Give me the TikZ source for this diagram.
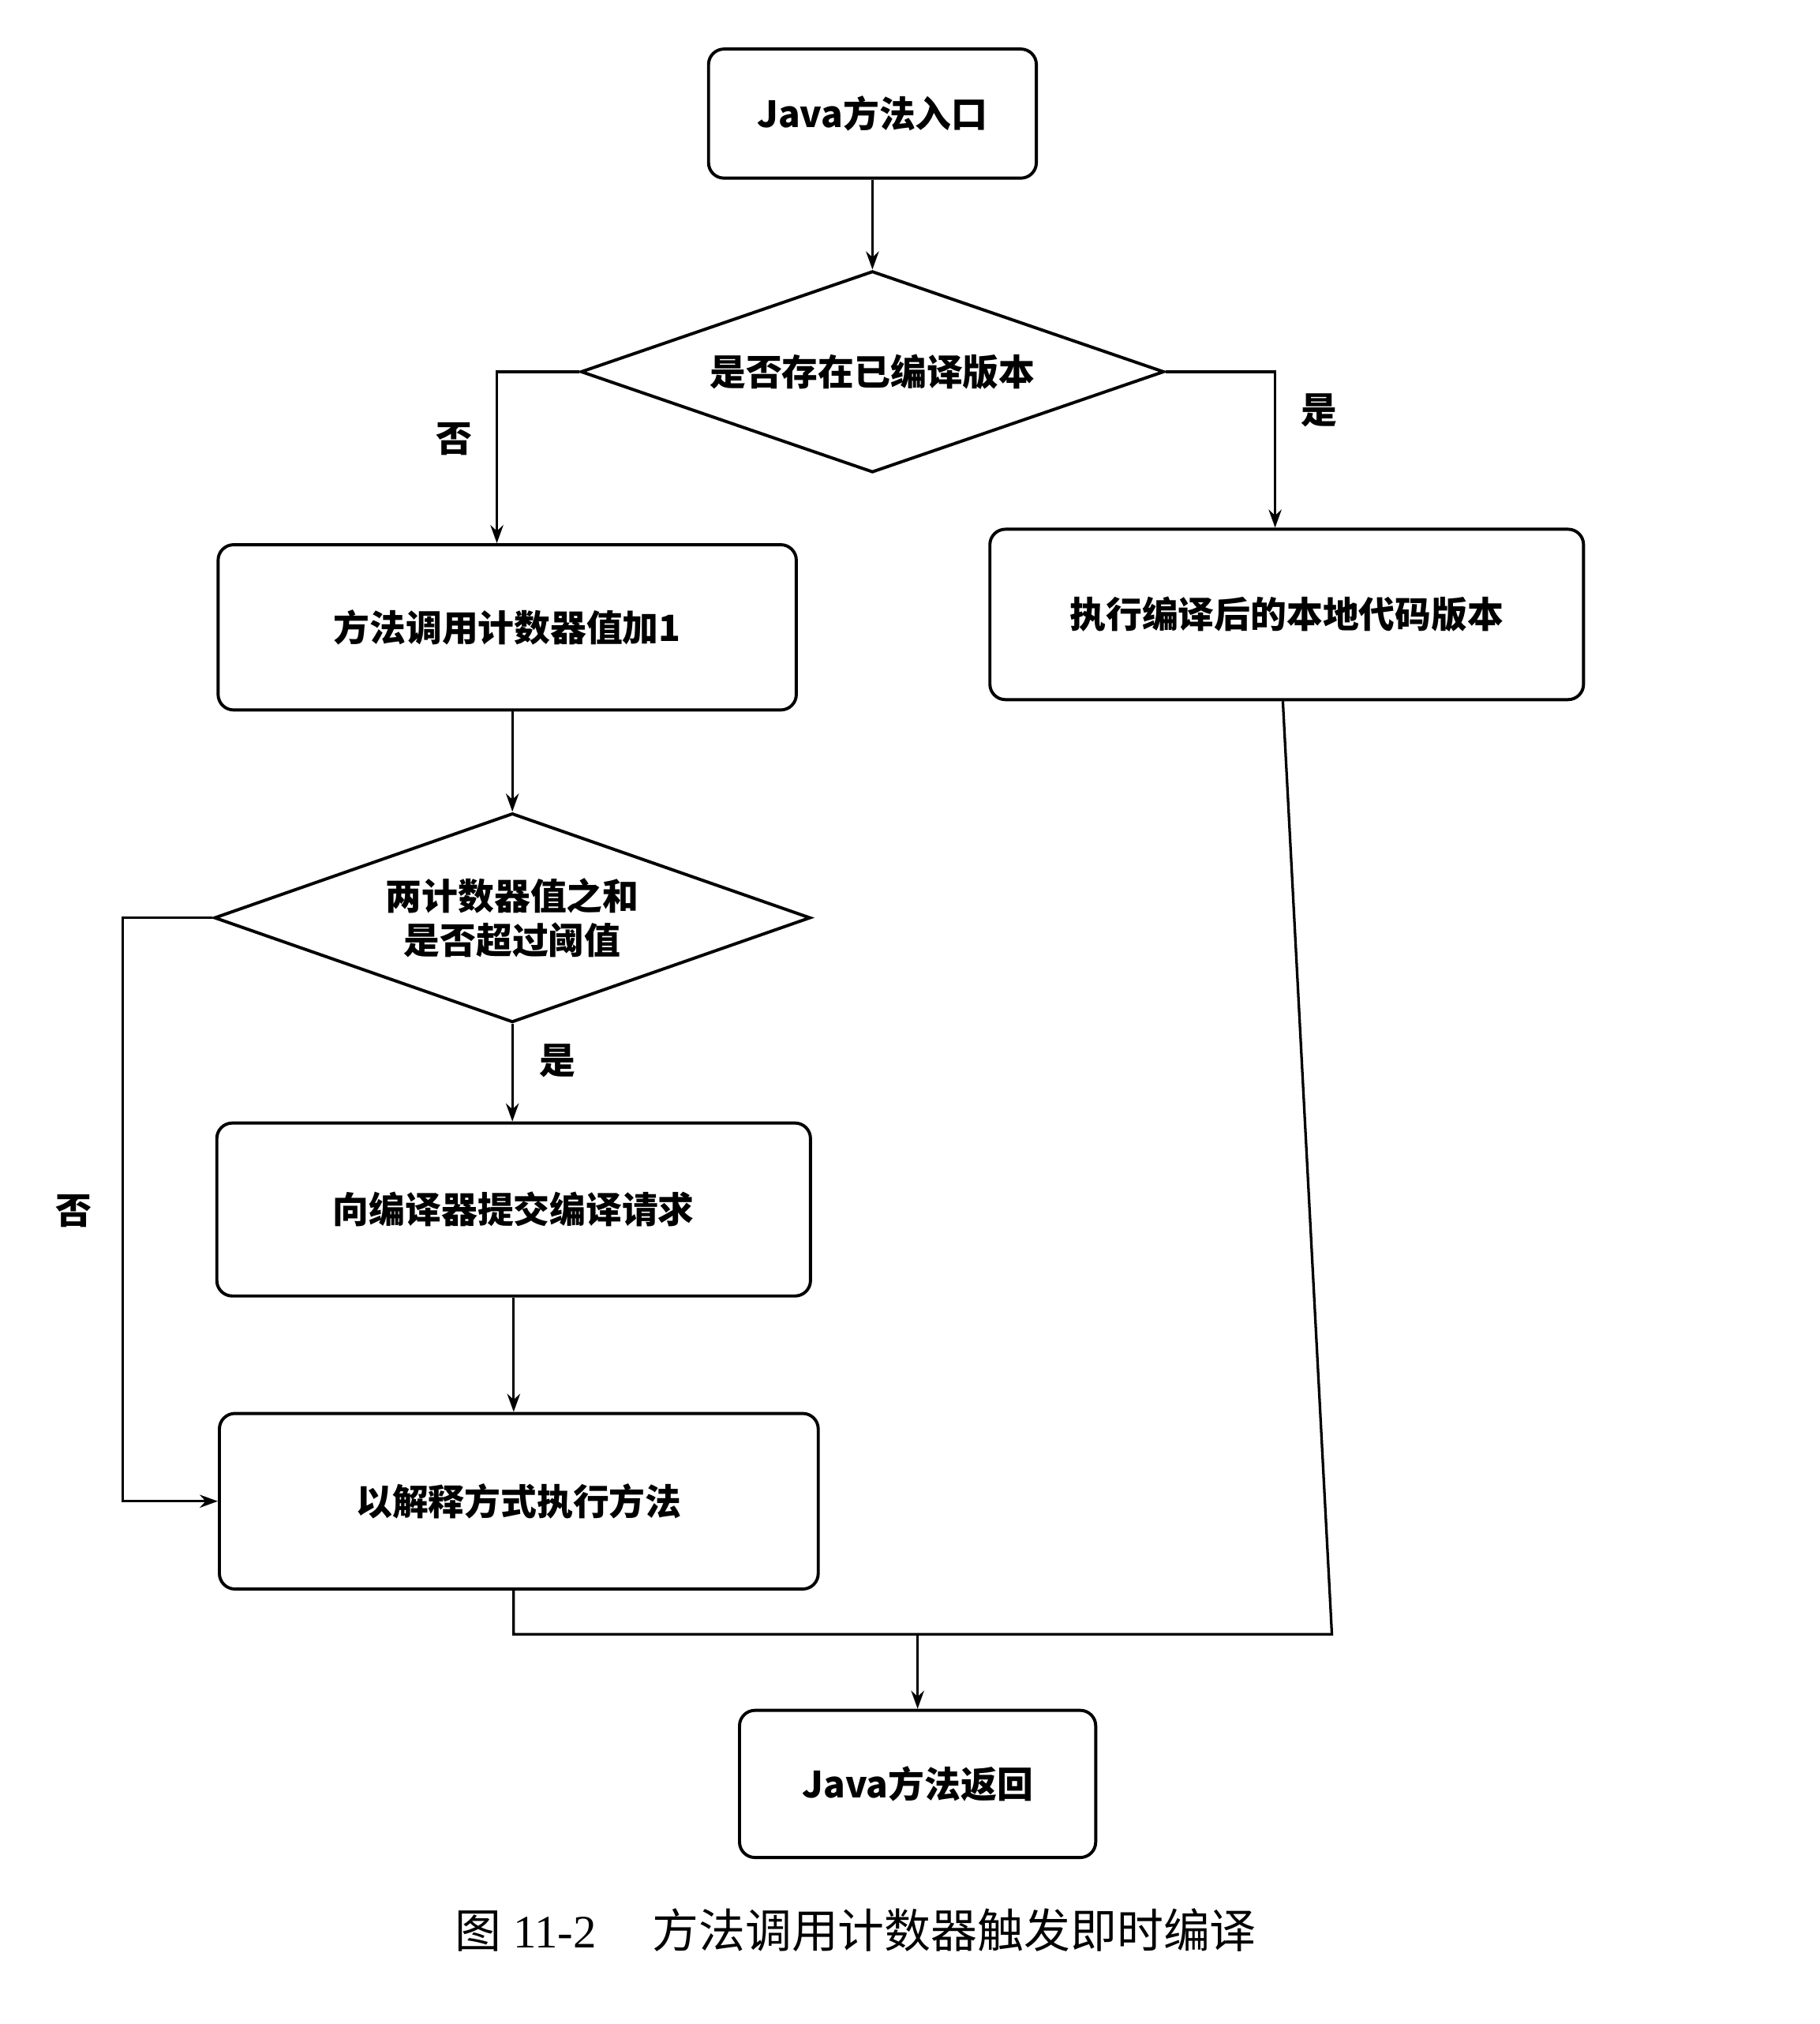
\documentclass[tikz,border=0pt]{standalone}
\usepackage{fontspec}
\setmainfont{Liberation Serif}
\newfontfamily\cjk{Noto Sans CJK SC}
\usetikzlibrary{shapes.geometric,arrows.meta}
\tikzset{
  stepbox/.style={draw,line width=1.2pt,rounded corners=6pt,inner sep=0pt,font=\cjk\fontsize{14}{17}\selectfont\bfseries},
  choice/.style={draw,diamond,line width=1.2pt,inner sep=0pt,aspect=2.9,align=center,font=\cjk\fontsize{14}{17}\selectfont\bfseries},
  flow/.style={line width=1pt,-{Stealth[length=7pt,width=5pt]}},
  tag/.style={font=\cjk\fontsize{14}{17}\selectfont\bfseries}
}
\begin{document}
\begin{tikzpicture}[x=0.5pt,y=-0.5pt]
\useasboundingbox (0,0) rectangle (1410,1568);
% boxes
\node[stepbox,minimum width=127pt,minimum height=50pt] (entry) at (676,88) {Java方法入口};
\node[choice,minimum width=226pt,minimum height=78pt] (compiled) at (676,288) {是否存在已编译版本};
\node[stepbox,minimum width=224pt,minimum height=64pt] (count) at (393,486) {方法调用计数器值加1};
\node[stepbox,minimum width=230pt,minimum height=66pt] (native) at (997,476) {执行编译后的本地代码版本};
\node[choice,minimum width=231pt,minimum height=81pt] (limit) at (397,711) {两计数器值之和\\是否超过阈值};
\node[stepbox,minimum width=230pt,minimum height=67pt] (submit) at (398,937) {向编译器提交编译请求};
\node[stepbox,minimum width=232pt,minimum height=68pt] (interp) at (402,1163) {以解释方式执行方法};
\node[stepbox,minimum width=138pt,minimum height=57pt] (exit) at (711,1382) {Java方法返回};
% labels
\node[tag] (no1) at (352,340) {否};
\node[tag] (yes1) at (1022,318) {是};
\node[tag] (yes2) at (432,822) {是};
\node[tag] (no2) at (57,938) {否};
\node[font=\fontsize{18}{22}\selectfont] (caption) at (663,1495) {{\cjk 图} 11-2\hspace{1.2em}{\cjk 方法调用计数器触发即时编译}};
% connectors
\coordinate (merge) at (711,1266);
\draw[flow] (entry) -- (compiled);
\draw[flow] (compiled.west) -| (count.north -| 385,0);
\draw[flow] (compiled.east) -| (native.north -| 988,0);
\draw[flow] (count.south -| limit.north) -- (limit.north);
\draw[flow] (limit) -- (submit.north -| limit.south);
\draw[flow] (submit) -- (interp.north -| submit.south);
\draw[flow] (limit.west) -- (95,711) |- (interp.west);
\draw[line width=1pt] (interp.south -| 398,0) |- (merge) -- (1032,1266) -- (native.south -| 994,0);
\draw[flow] (merge) -- (exit.north -| merge);
\end{tikzpicture}
\end{document}
